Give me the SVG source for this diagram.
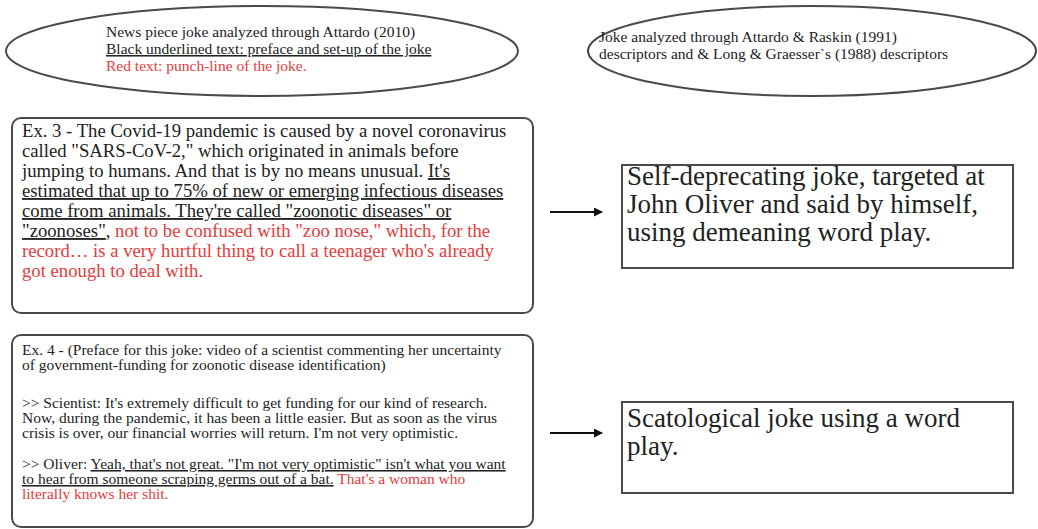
<svg xmlns="http://www.w3.org/2000/svg" width="1038" height="529" viewBox="0 0 1038 529">
<style>
.shape{fill:#fff;stroke:#4a4a4a;stroke-width:2}
.t{font-family:"Liberation Serif","Times New Roman",serif;fill:#222}
.red{fill:#e63b3b}
.u{text-decoration:underline}
.conn{stroke:#111;stroke-width:2;fill:none}
</style>
<defs>
<marker id="ah" markerWidth="9" markerHeight="9" refX="8" refY="4.5" orient="auto" markerUnits="userSpaceOnUse">
<path d="M0,0 L9,4.5 L0,9 Z" fill="#111"/>
</marker>
</defs>
<rect width="1038" height="529" fill="#fff"/>
<g id="header-left">
<ellipse class="shape" cx="262" cy="51" rx="256" ry="45"/>
<text class="t" font-size="15.5">
<tspan x="106" y="37">News piece joke analyzed through Attardo (2010)</tspan>
<tspan x="106" y="54" class="u">Black underlined text: preface and set-up of the joke</tspan>
<tspan x="106" y="71" class="red">Red text: punch-line of the joke.</tspan>
</text>
</g>
<g id="header-right">
<ellipse class="shape" cx="812" cy="51" rx="224" ry="45"/>
<text class="t" font-size="15.5">
<tspan x="599" y="42">Joke analyzed through Attardo &amp; Raskin (1991)</tspan>
<tspan x="599" y="59">descriptors and &amp; Long &amp; Graesser`s (1988) descriptors</tspan>
</text>
</g>
<g id="ex3">
<rect class="shape" x="12" y="118" width="521" height="195" rx="9"/>
<text class="t" font-size="18.7">
<tspan x="22" y="137">Ex. 3 - The Covid-19 pandemic is caused by a novel coronavirus</tspan>
<tspan x="22" y="157">called "SARS-CoV-2," which originated in animals before</tspan>
<tspan x="22" y="177">jumping to humans. And that is by no means unusual. <tspan class="u">It's</tspan></tspan>
<tspan x="22" y="197" class="u">estimated that up to 75% of new or emerging infectious diseases</tspan>
<tspan x="22" y="217" class="u">come from animals. They're called "zoonotic diseases" or</tspan>
<tspan x="22" y="237"><tspan class="u">"zoonoses"</tspan>, <tspan class="red">not to be confused with "zoo nose," which, for the</tspan></tspan>
<tspan x="22" y="257" class="red">record… is a very hurtful thing to call a teenager who's already</tspan>
<tspan x="22" y="277" class="red">got enough to deal with.</tspan>
</text>
</g>
<g id="ex4">
<rect class="shape" x="12" y="335" width="521" height="192" rx="9"/>
<text class="t" font-size="15.5">
<tspan x="22" y="355">Ex. 4 - (Preface for this joke: video of a scientist commenting her uncertainty</tspan>
<tspan x="22" y="370">of government-funding for zoonotic disease identification)</tspan>
<tspan x="22" y="408">&gt;&gt; Scientist: It's extremely difficult to get funding for our kind of research.</tspan>
<tspan x="22" y="423">Now, during the pandemic, it has been a little easier. But as soon as the virus</tspan>
<tspan x="22" y="438">crisis is over, our financial worries will return. I'm not very optimistic.</tspan>
<tspan x="22" y="469">&gt;&gt; Oliver: <tspan class="u">Yeah, that's not great. "I'm not very optimistic" isn't what you want</tspan></tspan>
<tspan x="22" y="484"><tspan class="u">to hear from someone scraping germs out of a bat.</tspan> <tspan class="red">That's a woman who</tspan></tspan>
<tspan x="22" y="499" class="red">literally knows her shit.</tspan>
</text>
</g>
<g id="desc3">
<rect class="shape" x="622" y="165" width="391" height="103"/>
<text class="t" font-size="27">
<tspan x="627" y="185">Self-deprecating joke, targeted at</tspan>
<tspan x="627" y="213">John Oliver and said by himself,</tspan>
<tspan x="627" y="241">using demeaning word play.</tspan>
</text>
</g>
<g id="desc4">
<rect class="shape" x="622" y="402" width="391" height="91"/>
<text class="t" font-size="27">
<tspan x="627" y="427">Scatological joke using a word</tspan>
<tspan x="627" y="455">play.</tspan>
</text>
</g>
<g id="connectors">
<line class="conn" x1="550" y1="212" x2="602" y2="212" marker-end="url(#ah)"/>
<line class="conn" x1="550" y1="433" x2="602" y2="433" marker-end="url(#ah)"/>
</g>
</svg>
